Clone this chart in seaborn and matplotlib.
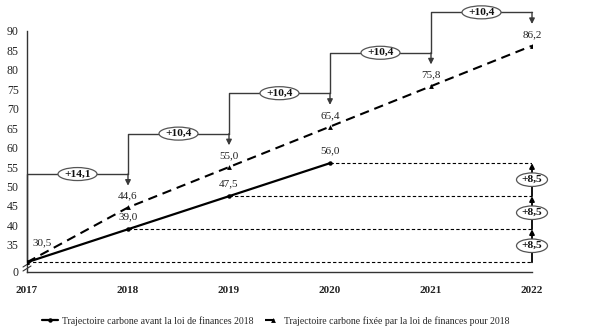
import matplotlib
matplotlib.use("Agg")
import matplotlib.pyplot as plt
import matplotlib.transforms as mtrans
from matplotlib.patches import Ellipse
import seaborn as sns
import pandas as pd

# ---- data ----
years_before = [2017, 2018, 2019, 2020]
before = [30.5, 39.0, 47.5, 56.0]
years_after = [2017, 2018, 2019, 2020, 2021, 2022]
after = [30.5, 44.6, 55.0, 65.4, 75.8, 86.2]
label_before = "Trajectoire carbone avant la loi de finances 2018"
label_after = "Trajectoire carbone fixée par la loi de finances pour 2018"
ytick_vals = [35, 40, 45, 50, 55, 60, 65, 70, 75, 80, 85, 90]
x_ticks = [2017, 2018, 2019, 2020, 2021, 2022]

def fr(v):
    return f"{v:.1f}".replace(".", ",")

sns.set_theme(style="white")
plt.rcParams["font.family"] = ["Liberation Serif", "DejaVu Serif"]

DPI = 100
fig = plt.figure(figsize=(6.15, 3.34), dpi=DPI)
ax = fig.add_axes([27/615, 62/334, 505/615, 241/334])

YMIN, YMAX = 28, 90
ax.set_xlim(2017, 2022)
ax.set_ylim(YMIN, YMAX)

df_b = pd.DataFrame({"year": years_before, "value": before})
df_a = pd.DataFrame({"year": years_after, "value": after})

def ellipse_label(x, y, text, wpx, hpx=13):
    off = mtrans.ScaledTranslation(x, y, ax.transData)
    e = Ellipse((0, 0), wpx / DPI, hpx / DPI, transform=fig.dpi_scale_trans + off,
                fc="white", ec="#555555", lw=0.9, zorder=5, clip_on=False)
    ax.add_patch(e)
    ax.text(x, y, text, ha="center", va="center", fontsize=8.2, fontweight="bold",
            zorder=6, clip_on=False, color="#111111")

# thin dashed reference lines
for yr, v in zip(years_before, before):
    ax.plot([yr, x_ticks[-1]], [v, v], color="black", lw=0.8, ls=(0, (3, 2)), zorder=1)

sns.lineplot(data=df_a, x="year", y="value", ax=ax, color="black", lw=1.5,
             ls=(0, (4.5, 2.8)), marker="^", markersize=3.5, markeredgewidth=0,
             label=label_after, zorder=3)
sns.lineplot(data=df_b, x="year", y="value", ax=ax, color="black", lw=1.6,
             marker="o", markersize=3.2, markeredgewidth=0,
             label=label_before, zorder=4)

bcol = "#3a3a3a"

# step brackets for the new trajectory
start = after[0]
for i in range(len(years_after) - 1):
    x0, x1 = years_after[i], years_after[i + 1]
    level = after[i + 1] + 8.6
    tip = after[i + 1] + 5.6
    ax.plot([x0, x0, x1], [start, level, level], color=bcol, lw=1.0,
            clip_on=False, zorder=2)
    ax.annotate("", xy=(x1, tip), xytext=(x1, level),
                arrowprops=dict(arrowstyle="-|>", color=bcol, lw=1.0,
                                mutation_scale=8, shrinkA=0, shrinkB=0),
                annotation_clip=False, zorder=2)
    d = after[i + 1] - after[i]
    ellipse_label((x0 + x1) / 2, level, "+" + fr(d), 39, 13)
    start = level

# value labels for new trajectory
for yr, v in zip(years_after[1:], after[1:]):
    ax.text(yr, v + 2.9, fr(v), ha="center", va="center", fontsize=8, color="#222222")

# value labels for old trajectory
ax.annotate(fr(before[0]), xy=(years_before[0], before[0]), xytext=(15, 20),
            textcoords="offset pixels", ha="center", va="center", fontsize=8,
            color="#222222")
for yr, v in zip(years_before[1:], before[1:]):
    ax.text(yr, v + 3.1, fr(v), ha="center", va="center", fontsize=8, color="#222222")

# +8,5 arrows at 2022
xr = x_ticks[-1]
for i in range(len(before) - 1):
    ax.annotate("", xy=(xr, before[i + 1]), xytext=(xr, before[i]),
                arrowprops=dict(arrowstyle="-|>", color="black", lw=1.3,
                                mutation_scale=7, shrinkA=0, shrinkB=0),
                annotation_clip=False, zorder=4)
    ellipse_label(xr, (before[i] + before[i + 1]) / 2,
                  "+" + fr(before[i + 1] - before[i]), 31, 13.5)

# axes styling
for s in ["top", "right"]:
    ax.spines[s].set_visible(False)
for s in ["left", "bottom"]:
    ax.spines[s].set_color("#333333")
    ax.spines[s].set_linewidth(1.0)

ax.set_xticks(x_ticks)
ax.set_xticklabels([str(y) for y in x_ticks], fontweight="bold", fontsize=8)
ax.set_yticks([YMIN] + ytick_vals)
ax.set_yticklabels(["0"] + [str(v) for v in ytick_vals], fontsize=8.5)
ax.tick_params(axis="x", direction="out", length=4, width=0.8, pad=6, colors="#222222")
ax.tick_params(axis="y", direction="out", length=3, width=0.8, pad=3, colors="#222222")
ax.set_xlabel("")
ax.set_ylabel("")
ax.grid(False)

# axis break marks
for dy in (-1.5, 2.5):
    off = mtrans.ScaledTranslation(0, (dy + 5) / DPI, fig.dpi_scale_trans)
    ax.plot([-4 / 505, 4 / 505], [-2.5 / 241, 2.5 / 241],
            transform=ax.transAxes + off, color="#333333", lw=0.8, clip_on=False)

# legend
h, l = ax.get_legend_handles_labels()
ax.legend_.remove()
order = [l.index(label_before), l.index(label_after)]
fig.legend([h[i] for i in order], [l[i] for i in order], loc="center",
           bbox_to_anchor=(276 / 615, 1 - 321 / 334), ncol=2, frameon=False,
           fontsize=7, handlelength=1.6, handletextpad=0.4, columnspacing=1.2)

fig.savefig("out.png", dpi=DPI)
